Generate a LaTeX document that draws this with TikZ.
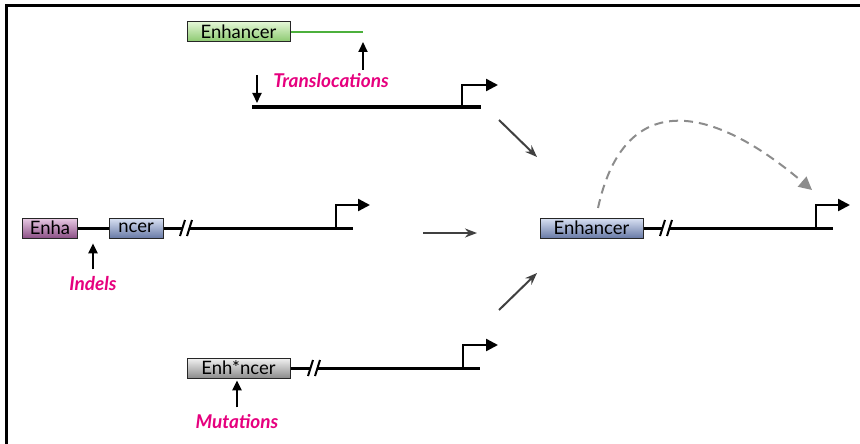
\documentclass[tikz,border=0pt]{standalone}
\usepackage{fontspec}
\setmainfont{Lato}
\usetikzlibrary{arrows.meta}
\usetikzlibrary{positioning}
\definecolor{hotpink}{RGB}{230,0,126}
\definecolor{greentop}{RGB}{226,246,212}
\definecolor{greenbot}{RGB}{138,200,110}
\definecolor{bluetop}{RGB}{218,226,244}
\definecolor{bluebot}{RGB}{104,122,166}
\definecolor{purptop}{RGB}{234,204,230}
\definecolor{purpbot}{RGB}{140,80,134}
\definecolor{graytop}{RGB}{242,242,242}
\definecolor{graybot}{RGB}{140,140,140}
\definecolor{linkgreen}{RGB}{76,176,60}

\begin{document}
\begin{tikzpicture}[x=1pt,y=-1pt,
  box/.style={draw=black!85, line width=1pt, inner sep=0pt, minimum height=20pt,
    font=\fontsize{18.5}{18.5}\selectfont},
  greenbox/.style={box, top color=greentop, bottom color=greenbot},
  bluebox/.style={box, top color=bluetop, bottom color=bluebot},
  purplebox/.style={box, top color=purptop, bottom color=purpbot},
  graybox/.style={box, top color=graytop, bottom color=graybot},
  dna/.style={line width=3pt},
  tss/.style={line width=2.4pt, -{Triangle[length=12pt,width=12pt]}},
  lbl/.style={text=hotpink, font=\fontsize{19}{19}\selectfont\bfseries\itshape},
  mut/.style={line width=2pt, -{Triangle[length=10pt,width=9pt]}},
  flow/.style={line width=2pt, black!75, -{Stealth[length=12pt,width=9pt]}},
  brk/.pic={
    \fill[white] (-7,8) -- (-2,-8) -- (5,-8) -- (0,8) -- cycle;
    \draw[line width=2pt] (-7,8) -- (-2,-8) (0,8) -- (5,-8);
  },
]
\useasboundingbox (0,0) rectangle (860,444);
\draw[line width=3pt] (6,444) -- (6,6) -- (860,6);

\node[greenbox, minimum width=103pt] (enhT) at (238.5,32) {Enhancer};
\coordinate (greenEnd) at (363,32);
\draw[line width=2.4pt, linkgreen] (enhT.east) -- (greenEnd);
\coordinate (lineTL) at (252,107);
\coordinate (lineTR) at (481,107);
\coordinate (tssT) at (462,107);
\draw[dna] (lineTL) -- (lineTR);
\draw[tss] (tssT) -- ++(0,-22) -- ++(36,0);
\node[lbl] (transl) at (331,81) {Translocations};
\draw[mut] ([yshift=-38pt]greenEnd) -- ([yshift=-10pt]greenEnd);
\draw[mut] ([xshift=5pt,yshift=32pt]lineTL) -- ([xshift=5pt,yshift=4pt]lineTL);

\node[purplebox, minimum width=55pt] (enha) at (50,228) {Enha};
\node[bluebox, minimum width=54pt] (ncer) at (136,228) {ncer};
\coordinate (lineMR) at (353,228);
\coordinate (tssM) at (336,228);
\draw[dna] (enha.east) -- (ncer.west);
\draw[dna] (ncer.east) -- (lineMR);
\pic at (187,228) {brk};
\draw[tss] (tssM) -- ++(0,-23) -- ++(34,0);
\node[lbl] (indels) at (93,284) {Indels};
\draw[mut] ([yshift=4pt]indels.north) -- +(0,-26);

\node[graybox, minimum width=103pt] (enhB) at (238.5,368) {Enh*ncer};
\coordinate (lineBR) at (480,368);
\coordinate (tssB) at (463,368);
\draw[dna] (enhB.east) -- (lineBR);
\pic at (315,368) {brk};
\draw[tss] (tssB) -- ++(0,-23) -- ++(35,0);
\node[lbl] (mutat) at (237,422) {Mutations};
\draw[mut] ([yshift=4pt]mutat.north) -- +(0,-27);

\node[bluebox, minimum width=103pt] (enhR) at (591.5,228) {Enhancer};
\coordinate (lineRR) at (833,228);
\coordinate (tssR) at (816,228);
\draw[dna] (enhR.east) -- (lineRR);
\pic at (667,228) {brk};
\draw[tss] (tssR) -- ++(0,-23) -- ++(34,0);

\coordinate (a1s) at (499,120);
\coordinate (a1e) at (537,157);
\coordinate (a2s) at (423,233);
\coordinate (a2e) at (477,233);
\coordinate (a3s) at (499,310);
\coordinate (a3e) at (537,273);
\draw[flow] (a1s) -- (a1e);
\draw[flow] (a2s) -- (a2e);
\draw[flow] (a3s) -- (a3e);

\coordinate (loopS) at (598,208);
\coordinate (loopE) at (812,190);
\draw[line width=2pt, black!45, dash pattern=on 9pt off 6pt,
  -{Triangle[length=13pt,width=13pt]}]
  (loopS) .. controls (622,98) and (700,95) .. (loopE);
\end{tikzpicture}
\end{document}
